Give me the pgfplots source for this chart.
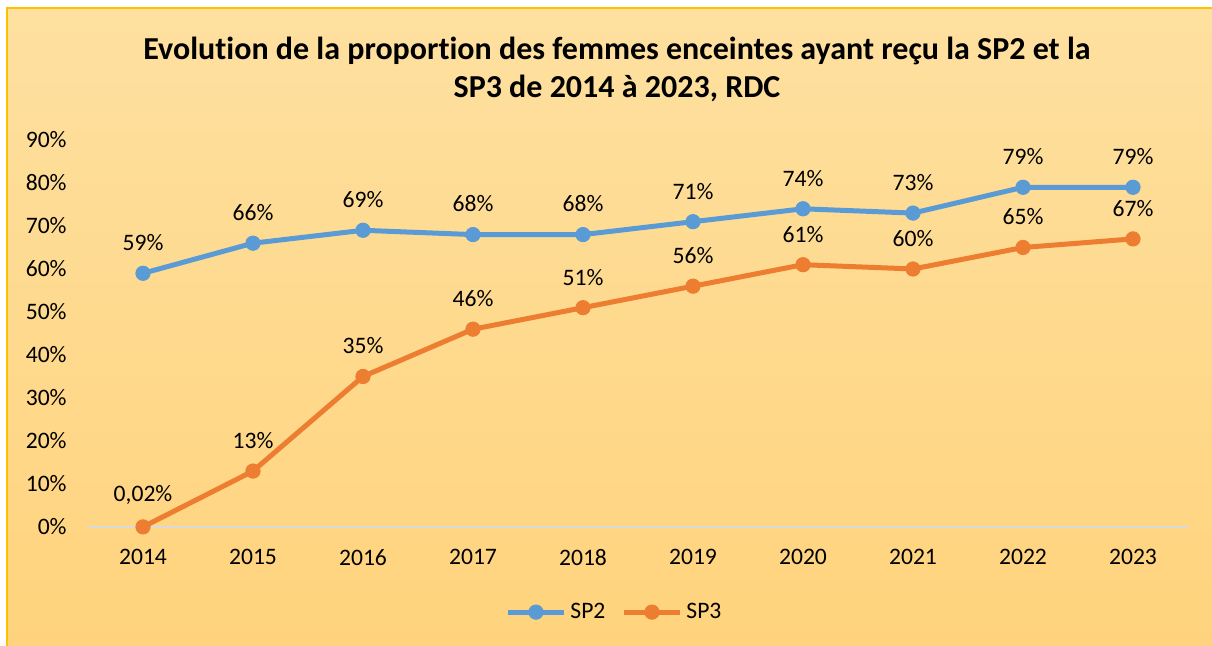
\documentclass[border=0pt]{standalone}
\usepackage{pgfplots}
\pgfplotsset{compat=1.18}
\usepackage{fontspec}
\setmainfont{Carlito}[Ligatures=NoCommon]
\definecolor{sptwo}{RGB}{91,155,213}
\definecolor{spthree}{RGB}{237,125,49}
\definecolor{bgtop}{RGB}{254,224,160}
\definecolor{bgbot}{RGB}{255,211,124}
\definecolor{bordc}{RGB}{255,192,0}
\definecolor{axc}{RGB}{217,217,217}
\begin{document}
\begin{tikzpicture}
\path[use as bounding box] (0,0) rectangle (606pt,323pt);
\clip (0,0) rectangle (606pt,323pt);
\fill[white] (0,0) rectangle (606pt,323pt);
\shade[top color=bgtop, bottom color=bgbot] (3.5pt,-5pt) rectangle (615pt,319pt);
\draw[bordc, line width=0.6pt] (3.5pt,-5pt) -- (3.5pt,319pt) -- (615pt,319pt);
\node[font=\fontsize{16}{19}\selectfont\bfseries, align=center] at (308.5pt,288.5pt) {Evolution de la proportion des femmes enceintes ayant reçu la SP2 et la\\SP3 de 2014 à 2023, RDC};
\begin{axis}[
  at={(44pt,59.5pt)}, anchor=south west, scale only axis,
  width=550pt, height=193.5pt,
  xmin=-0.5, xmax=9.5, ymin=0, ymax=90,
  axis x line*=bottom, axis y line*=left,
  x axis line style={axc, line width=1pt},
  y axis line style={draw=none},
  major tick length=0pt, tick style={draw=none},
  xtick={0,...,9},
  xticklabels={2014,2015,2016,2017,2018,2019,2020,2021,2022,2023},
  ytick={0,10,...,90},
  yticklabels={0\%,10\%,20\%,30\%,40\%,50\%,60\%,70\%,80\%,90\%},
  tick label style={font=\fontsize{11.8}{14}\selectfont, text=black},
  xticklabel style={inner sep=0pt, yshift=-11pt},
  yticklabel style={inner sep=0pt, xshift=-10.5pt},
  clip=false,
  nodes near coords, point meta=explicit symbolic,
  nodes near coords style={font=\fontsize{11.8}{14}\selectfont, text=black, anchor=south, inner sep=0pt, yshift=11pt},
  legend style={at={(0.4795,-0.22)}, anchor=center, draw=none, fill=none, legend columns=2,
    font=\fontsize{11.8}{14}\selectfont, text=black,
    /tikz/every even column/.append style={column sep=6pt},
    legend cell align=left},
  legend image code/.code={\draw[mark repeat=2, mark phase=2] plot coordinates {(0pt,0pt) (14pt,0pt) (28pt,0pt)};},
]
\addplot[sptwo, line width=2.5pt, line join=round, mark=*, mark size=3.6pt, mark options={line width=0.4pt, fill=sptwo}]
  coordinates {(0,59) [59\%] (1,66) [66\%] (2,69) [69\%] (3,68) [68\%] (4,68) [68\%] (5,71) [71\%] (6,74) [74\%] (7,73) [73\%] (8,79) [79\%] (9,79) [79\%]};
\addlegendentry{SP2}
\addplot[spthree, line width=2.5pt, line join=round, mark=*, mark size=3.6pt, mark options={line width=0.4pt, fill=spthree}]
  coordinates {(0,0.02) [0,02\%] (1,13) [13\%] (2,35) [35\%] (3,46) [46\%] (4,51) [51\%] (5,56) [56\%] (6,61) [61\%] (7,60) [60\%] (8,65) [65\%] (9,67) [67\%]};
\addlegendentry{SP3}
\end{axis}
\end{tikzpicture}
\end{document}
